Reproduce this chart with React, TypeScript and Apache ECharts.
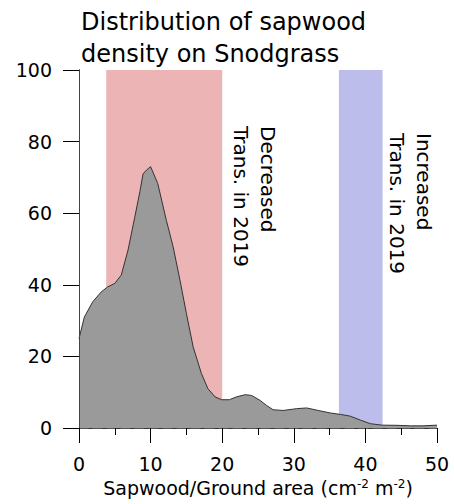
import { useEffect, useRef } from 'react';
import * as echarts from 'echarts';

const sapwoodArea = [0, 0.75, 1.9, 3.1, 4, 5, 5.9, 6.85, 7.8, 8.5, 8.95, 9.4, 10, 11, 12.2, 13.15, 14.1, 15, 15.95, 17.1, 18, 19, 19.9, 21, 22, 23.2, 24.1, 25.3, 26.2, 27.1, 28.5, 30.4, 31.8, 33.4, 35.1, 36.5, 37.9, 39.3, 40.7, 42.3, 44.4, 46.3, 48, 50];
const density = [25, 31, 35.2, 38, 39.4, 40.4, 42.7, 49.7, 59, 66, 71, 72, 73, 68.3, 58, 50.6, 41.3, 32, 22.6, 15.2, 11, 8.7, 7.9, 7.9, 8.7, 9.3, 9.1, 7.7, 6.3, 5.1, 4.9, 5.4, 5.6, 4.9, 4.2, 3.8, 3.3, 2.2, 1.2, 0.8, 0.75, 0.6, 0.6, 0.8];
const decreasedBand = [3.8, 20];
const increasedBand = [36.3, 42.4];
const titleText = 'Distribution of sapwood\ndensity on Snodgrass';
const decreasedLabel = 'Decreased\nTrans. in 2019';
const increasedLabel = 'Increased\nTrans. in 2019';

const FONT = '"DejaVu Sans", sans-serif';

export default function App() {
  const ref = useRef<HTMLDivElement>(null);
  useEffect(() => {
    if (!ref.current) return;
    const chart = echarts.init(ref.current, null, { renderer: 'svg' });
    const data = sapwoodArea.map((x, i) => [x, density[i]]);
    chart.setOption({
      animation: false,
      title: {
        text: titleText,
        left: 81,
        top: 6,
        padding: 0,
        textStyle: { fontFamily: FONT, fontSize: 24, lineHeight: 32, fontWeight: 'normal', color: '#000' },
      },
      grid: { left: 79, right: 17, top: 70, bottom: 76, containLabel: false },
      xAxis: [
        {
          type: 'value',
          min: 0,
          max: 50,
          interval: 10,
          z: 5,
          axisLine: { show: true, onZero: false, lineStyle: { color: '#555', width: 1, type: [9, 5] } },
          axisTick: { show: true, inside: false, length: 15, lineStyle: { color: '#000', width: 1 } },
          minorTick: { show: true, splitNumber: 2, length: 7, lineStyle: { color: '#000', width: 1 } },
          splitLine: { show: false },
          axisLabel: { fontFamily: FONT, fontSize: 19, color: '#000', margin: 26 },
          name: 'Sapwood/Ground area (cm{sup|-2} m{sup|-2})',
          nameLocation: 'middle',
          nameGap: 46,
          nameTextStyle: {
            fontFamily: FONT,
            fontSize: 19,
            color: '#000',
            rich: { sup: { fontFamily: FONT, fontSize: 12, color: '#000', padding: [0, 0, 9, 0] } },
          },
        },
        {
          type: 'value',
          position: 'top',
          min: 0,
          max: 50,
          axisLine: { show: true, lineStyle: { color: '#333', width: 1 } },
          axisTick: { show: false },
          axisLabel: { show: false },
          splitLine: { show: false },
        },
      ],
      yAxis: [
        {
          type: 'value',
          min: 0,
          max: 100,
          interval: 20,
          z: 5,
          axisLine: { show: true, lineStyle: { color: '#000', width: 1 } },
          axisTick: { show: true, inside: false, length: 16, lineStyle: { color: '#000', width: 1 } },
          splitLine: { show: false },
          axisLabel: { fontFamily: FONT, fontSize: 19, color: '#000', margin: 27 },
        },
        {
          type: 'value',
          position: 'right',
          min: 0,
          max: 100,
          z: 5,
          axisLine: { show: true, lineStyle: { color: '#444', width: 1 } },
          axisTick: { show: false },
          axisLabel: { show: false },
          splitLine: { show: false },
        },
      ],
      series: [
        {
          type: 'line',
          data: [],
          z: 1,
          silent: true,
          markArea: {
            silent: true,
            data: [
              [{ xAxis: decreasedBand[0], itemStyle: { color: '#ecb4b5' } }, { xAxis: decreasedBand[1] }],
              [{ xAxis: increasedBand[0], itemStyle: { color: '#bdbdeb' } }, { xAxis: increasedBand[1] }],
            ],
          },
        },
        {
          type: 'line',
          data,
          z: 3,
          symbol: 'none',
          silent: true,
          lineStyle: { color: '#333', width: 1 },
          areaStyle: { color: '#9a9a9a', opacity: 1 },
        },
      ],
      graphic: [
        {
          type: 'text',
          x: 281,
          y: 126,
          rotation: -Math.PI / 2,
          z: 10,
          style: { text: decreasedLabel, font: `20px ${FONT}`, fill: '#000', lineHeight: 27, textAlign: 'left', textVerticalAlign: 'top' },
        },
        {
          type: 'text',
          x: 437,
          y: 133,
          rotation: -Math.PI / 2,
          z: 10,
          style: { text: increasedLabel, font: `20px ${FONT}`, fill: '#000', lineHeight: 27, textAlign: 'left', textVerticalAlign: 'top' },
        },
      ],
    });
    return () => chart.dispose();
  }, []);
  return <div ref={ref} style={{ width: 454, height: 504, position: 'absolute', left: 0, top: 0 }} />;
}
